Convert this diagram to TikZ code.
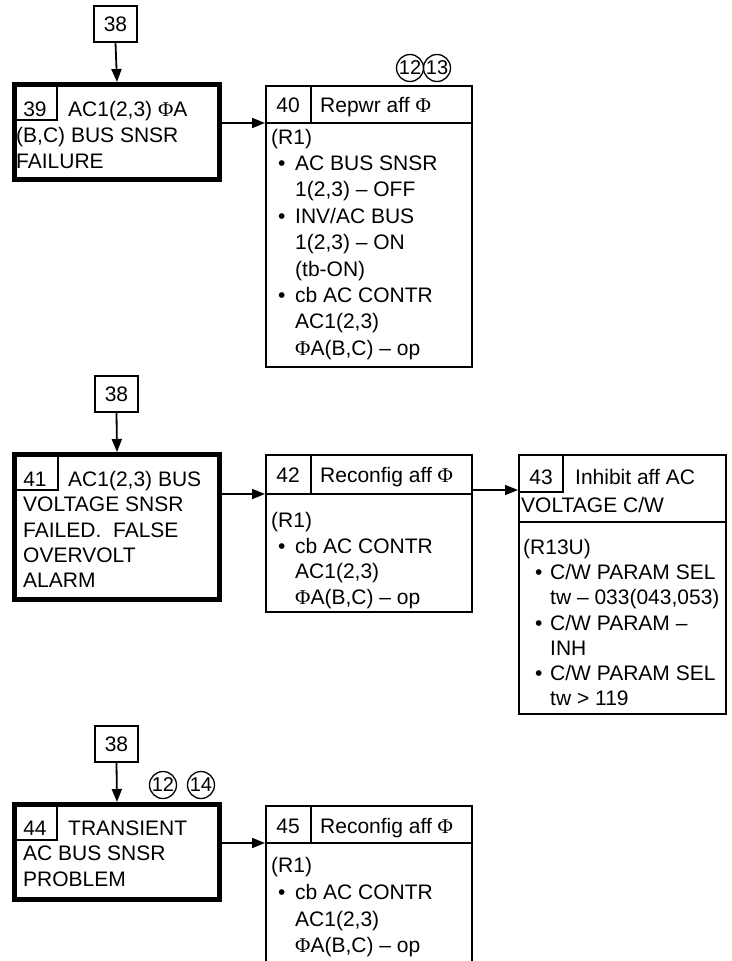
\documentclass[tikz,border=0pt]{standalone}
\usepackage{fontspec}
\setmainfont{Liberation Sans}
\newfontfamily\phif{Liberation Serif}
\usetikzlibrary{arrows.meta}
\newcommand\PH{{\phif Φ}}
\newcommand\tl[4]{\node[txt] (#1) at (#2,#3) {#4};}
\newcommand\nm[4]{\node[num] (#1) at (#2,#3) {#4};}
\begin{document}
\begin{tikzpicture}[x=1pt,y=-1pt,
  thinline/.style={line width=1.8pt},
  thickbox/.style={draw,line width=5pt,inner sep=0pt},
  thinbox/.style={draw,line width=1.8pt,inner sep=0pt},
  conn/.style={line width=1.8pt,-{Triangle[length=13pt,width=10pt]}},
  txt/.style={inner sep=0pt,anchor=base west,font=\fontsize{21}{25}\selectfont},
  num/.style={inner sep=0pt,anchor=base,font=\fontsize{21}{25}\selectfont},
  circ/.style={circle,draw,line width=1.3pt,minimum size=27pt,inner sep=0pt,font=\fontsize{20}{20}\selectfont}]
\useasboundingbox (0,0) rectangle (731,961);

% ---------- top section ----------
\node[thinbox,minimum width=43pt,minimum height=36pt,font=\fontsize{21}{25}\selectfont] (b38a) at (115.5,24) {38};
\node[thickbox,minimum width=205pt,minimum height=95pt] (b39) at (117,132) {};
\draw[thinline] (14.5,120) -| (57,84.5);
\nm{n39}{35}{116}{39}
\tl{t39a}{68}{116}{AC1(2,3) \PH A}
\tl{t39b}{16}{142}{(B,C) BUS SNSR}
\tl{t39c}{16}{168}{FAILURE}

\node[thinbox,minimum width=206pt,minimum height=281pt] (b40) at (369,226.5) {};
\coordinate (h40) at (265,123);
\draw[thinline] (h40) -- (473,123);
\draw[thinline] (311,86) -- (311,123);
\nm{n40}{288}{112.5}{40}
\tl{t40h}{320}{112.5}{Repwr aff \PH}
\tl{t40a}{271}{144}{(R1)}
\tl{t40b}{278}{170.4}{\textbullet}
\tl{t40c}{295}{170.4}{AC BUS SNSR}
\tl{t40d}{295}{196.8}{1(2,3) – OFF}
\tl{t40e}{278}{223.2}{\textbullet}
\tl{t40f}{295}{223.2}{INV/AC BUS}
\tl{t40g}{295}{249.6}{1(2,3) – ON}
\tl{t40i}{295}{276}{(tb-ON)}
\tl{t40j}{278}{302.4}{\textbullet}
\tl{t40k}{295}{302.4}{cb AC CONTR}
\tl{t40l}{295}{328.8}{AC1(2,3)}
\tl{t40m}{295}{355.2}{\PH A(B,C) – op}
\node[circ] (c12a) at (410,68) {12};
\node[circ] (c13a) at (437,68) {13};

\draw[conn] (b38a.south) -- (b39.north);
\draw[conn] (b39.east |- h40) -- (h40);

% ---------- middle section ----------
\node[thinbox,minimum width=43pt,minimum height=36pt,font=\fontsize{21}{25}\selectfont] (b38b) at (116.5,394) {38};
\node[thickbox,minimum width=205pt,minimum height=145pt] (b41) at (117,527) {};
\draw[thinline] (14.5,490) -| (58,454.5);
\nm{n41}{35}{486}{41}
\tl{t41a}{68}{486}{AC1(2,3) BUS}
\tl{t41b}{23}{511.5}{VOLTAGE SNSR}
\tl{t41c}{23}{537}{FAILED.~~FALSE}
\tl{t41d}{23}{562}{OVERVOLT}
\tl{t41e}{23}{587}{ALARM}

\node[thinbox,minimum width=206pt,minimum height=157pt] (b42) at (369,533.5) {};
\coordinate (h42) at (265,494);
\draw[thinline] (h42) -- (473,494);
\draw[thinline] (311,455) -- (311,494);
\nm{n42}{288}{482.5}{42}
\tl{t42h}{320}{482.5}{Reconfig aff \PH}
\tl{t42a}{271}{527.5}{(R1)}
\tl{t42b}{278}{553}{\textbullet}
\tl{t42c}{295}{553}{cb AC CONTR}
\tl{t42d}{295}{578.5}{AC1(2,3)}
\tl{t42e}{295}{604}{\PH A(B,C) – op}

\node[thinbox,minimum width=207pt,minimum height=259pt] (b43) at (622.5,584.5) {};
\coordinate (h43) at (518,490);
\draw[thinline] (519,522) -- (726,522);
\draw[thinline] (519,492) -| (563,455);
\nm{n43}{541}{484.5}{43}
\tl{t43h}{575}{484.5}{Inhibit aff AC}
\tl{t43i}{521}{512}{VOLTAGE C/W}
\tl{t43a}{523}{554.5}{(R13U)}
\tl{t43b}{535}{579.5}{\textbullet}
\tl{t43c}{550}{579.5}{C/W PARAM SEL}
\tl{t43d}{550}{604.5}{tw – 033(043,053)}
\tl{t43e}{535}{630}{\textbullet}
\tl{t43f}{550}{630}{C/W PARAM –}
\tl{t43g}{550}{655.5}{INH}
\tl{t43j}{535}{680.5}{\textbullet}
\tl{t43k}{550}{680.5}{C/W PARAM SEL}
\tl{t43l}{550}{705.5}{tw > 119}

\draw[conn] (b38b.south) -- (b41.north);
\draw[conn] (b41.east |- h42) -- (h42);
\draw[conn] (b42.east |- h43) -- (h43);

% ---------- bottom section ----------
\node[thinbox,minimum width=43pt,minimum height=36pt,font=\fontsize{21}{25}\selectfont] (b38c) at (116.5,744) {38};
\node[thickbox,minimum width=205pt,minimum height=95pt] (b44) at (117,852) {};
\draw[thinline] (14.5,840) -| (57,804.5);
\nm{n44}{35}{835}{44}
\tl{t44a}{68}{835}{TRANSIENT}
\tl{t44b}{23}{860.5}{AC BUS SNSR}
\tl{t44c}{23}{886}{PROBLEM}
\node[circ] (c12b) at (163,785) {12};
\node[circ] (c14b) at (201,785) {14};

\coordinate (b45) at (369,806);
\draw[thinline] (266,965) -- (266,806) -- (472,806) -- (472,965);
\coordinate (h45) at (265,843);
\draw[thinline] (h45) -- (473,843);
\draw[thinline] (311,806) -- (311,843);
\nm{n45}{288}{833}{45}
\tl{t45h}{320}{833}{Reconfig aff \PH}
\tl{t45a}{271}{872}{(R1)}
\tl{t45b}{278}{899}{\textbullet}
\tl{t45c}{295}{899}{cb AC CONTR}
\tl{t45d}{295}{926}{AC1(2,3)}
\tl{t45e}{295}{952}{\PH A(B,C) – op}

\draw[conn] (b38c.south) -- (b44.north);
\draw[conn] (b44.east |- h45) -- (h45);
\end{tikzpicture}
\end{document}
